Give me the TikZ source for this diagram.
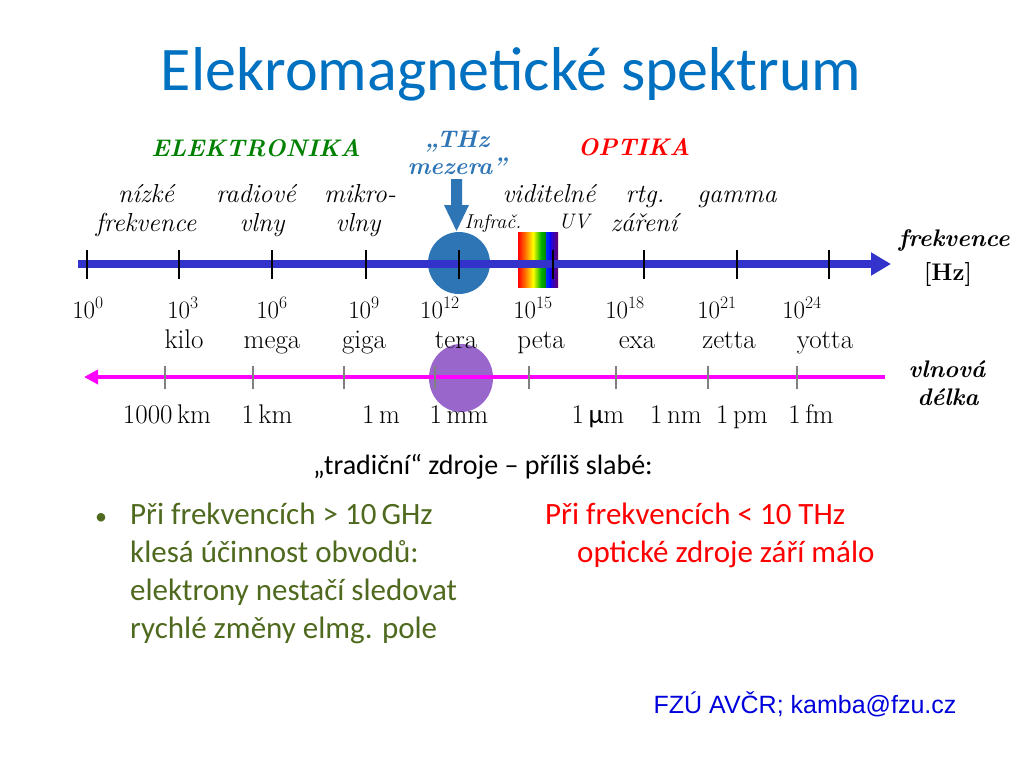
\documentclass[tikz,border=0pt]{standalone}
\usepackage{fontspec}
\newfontfamily\calibri{Carlito}
\newfontfamily\arial{Liberation Sans}
\usetikzlibrary{arrows.meta}
\definecolor{titleblue}{RGB}{0,112,192}
\definecolor{axisblue}{RGB}{51,51,204}
\definecolor{thzblue}{RGB}{46,117,182}
\definecolor{elgreen}{RGB}{0,128,0}
\definecolor{olivegreen}{RGB}{79,105,30}
\definecolor{purp}{RGB}{153,102,204}
\definecolor{mag}{RGB}{255,0,255}
\definecolor{mailblue}{RGB}{0,0,220}
\tikzset{
  lab/.style={font=\fontsize{26}{28}\selectfont\itshape, inner sep=0pt, anchor=base},
  pw/.style={font=\fontsize{25}{27}\selectfont, inner sep=0pt, anchor=base},
  pre/.style={font=\fontsize{27}{29}\selectfont, inner sep=0pt, anchor=base},
  wl/.style={font=\fontsize{27}{29}\selectfont, inner sep=0pt, anchor=base},
  head/.style={font=\fontsize{24}{26}\selectfont\bfseries\itshape, inner sep=0pt, anchor=base},
  side/.style={font=\fontsize{24}{26}\selectfont\bfseries\itshape, inner sep=0pt, anchor=base},
  ftick/.style={line width=2pt, black},
  wtick/.style={line width=1.5pt, gray},
  body/.style={font=\calibri\fontsize{31}{34}\selectfont, inner sep=0pt, anchor=base west},
}
\begin{document}
\begin{tikzpicture}[x=1pt,y=-1pt]
\useasboundingbox (0,0) rectangle (1024,768);
% title
\node[font=\calibri\fontsize{62}{68}\selectfont, text=titleblue, inner sep=0pt, anchor=base] (title) at (511,90) {Elekromagnetické spektrum};
% headings
\node[head, text=elgreen] (elek) at (256,156) {ELEKTRONIKA};
\node[head, text=red] (opt) at (634,155) {OPTIKA};
\node[head, text=thzblue] (thz1) at (457,147) {„THz};
\node[head, text=thzblue] (thz2) at (457,174) {mezera”};
% band labels
\node[lab] (n1) at (146,202) {nízké};
\node[lab] (n2) at (146,231) {frekvence};
\node[lab] (r1) at (256,202) {radiové};
\node[lab] (r2) at (262,231) {vlny};
\node[lab] (m1) at (360,202) {mikro-};
\node[lab] (m2) at (358,231) {vlny};
\node[lab] (vid) at (549,202) {viditelné};
\node[font=\fontsize{20}{22}\selectfont\itshape, inner sep=0pt, anchor=base] (ir) at (493,228) {Infrač.};
\node[font=\fontsize{21}{23}\selectfont\itshape, inner sep=0pt, anchor=base] (uv) at (574,228) {UV};
\node[lab] (rt1) at (645,202) {rtg.};
\node[lab] (rt2) at (644,231) {záření};
\node[lab] (gam) at (737,202) {gamma};
% frequency axis
\coordinate (fs) at (78,264);
\coordinate (fe) at (891,264);
\fill[thzblue] (459,263) circle[radius=31];
% rainbow
\shade[left color=red, right color=orange] (518,232) rectangle (526,287);
\shade[left color=orange, right color=yellow] (526,232) rectangle (533,287);
\shade[left color=yellow, right color=green!70!black] (533,232) rectangle (541,287);
\shade[left color=green!70!black, right color=green!50!black] (541,232) rectangle (546,287);
\shade[left color=blue!80!cyan, right color=blue] (546,232) rectangle (551,287);
\shade[left color=blue!70!violet, right color=violet!80!black] (551,232) rectangle (558,287);
\draw[axisblue, line width=7.5pt, -{Triangle[length=20pt,width=22pt]}] (fs) -- (fe);
\foreach \x in {87,179,272,366,459,553,644,737,829}
  \draw[ftick] (\x,250) -- (\x,279);
% THz arrow
\fill[thzblue] (451,179) -- (462,179) -- (462,205) -- (469,205) -- (456.5,231) -- (444,205) -- (451,205) -- cycle;
\node[side] (fr1) at (954,246) {frekvence};
\node[side, font=\fontsize{24}{26}\selectfont\bfseries] (fr2) at (948,280) {[Hz]};
% powers
\node[pw] (p0) at (88,318) {10\textsuperscript{0}};
\node[pw] (p3) at (183,318) {10\textsuperscript{3}};
\node[pw] (p6) at (272,318) {10\textsuperscript{6}};
\node[pw] (p9) at (364,318) {10\textsuperscript{9}};
\node[pw] (p12) at (440,318) {10\textsuperscript{12}};
\node[pw] (p15) at (533,318) {10\textsuperscript{15}};
\node[pw] (p18) at (625,318) {10\textsuperscript{18}};
\node[pw] (p21) at (717,318) {10\textsuperscript{21}};
\node[pw] (p24) at (802,318) {10\textsuperscript{24}};
% wavelength axis
\fill[purp] (461,378) ellipse[x radius=32, y radius=34];
% prefixes
\node[pre] (kilo) at (184,348) {kilo};
\node[pre] (mega) at (272,348) {mega};
\node[pre] (giga) at (364,348) {giga};
\node[pre] (tera) at (456,348) {tera};
\node[pre] (peta) at (541,348) {peta};
\node[pre] (exa) at (637,348) {exa};
\node[pre] (zetta) at (729,348) {zetta};
\node[pre] (yotta) at (825,348) {yotta};
\coordinate (ws) at (885,377);
\coordinate (we) at (84,377);
\draw[mag, line width=4.5pt, -{Triangle[length=14pt,width=14pt]}] (ws) -- (we);
\foreach \x in {165,253,344,435,529,616,708,797}
  \draw[wtick] (\x,366) -- (\x,389);
\node[side] (vl1) at (947,377) {vlnová};
\node[side] (vl2) at (948,405) {délka};
\node[wl] (w1) at (167,423) {1000\,km};
\node[wl] (w2) at (267,423) {1\,km};
\node[wl] (w3) at (381,423) {1\,m};
\node[wl] (w4) at (459,423) {1\,mm};
\node[wl] (w5) at (598,423) {1\,{\calibri μ}m};
\node[wl] (w6) at (676,423) {1\,nm};
\node[wl] (w7) at (742,423) {1\,pm};
\node[wl] (w8) at (811,423) {1\,fm};
% texts
\node[font=\calibri\fontsize{28}{30}\selectfont, inner sep=0pt, anchor=base] (trad) at (483,474) {„tradiční“ zdroje – příliš slabé:};
\node[font=\calibri\fontsize{24}{26}\selectfont, text=olivegreen, inner sep=0pt, anchor=base] (bul) at (101,524) {•};
\node[body, text=olivegreen] (g1) at (130,524) {Při frekvencích > 10\,GHz};
\node[body, text=olivegreen] (g2) at (130,562) {klesá účinnost obvodů:};
\node[body, text=olivegreen] (g3) at (130,600) {elektrony nestačí sledovat};
\node[body, text=olivegreen] (g4) at (130,638) {rychlé změny elmg. pole};
\node[body, text=red] (r1t) at (545,524) {Při frekvencích < 10 THz};
\node[body, text=red] (r2t) at (577,562) {optické zdroje září málo};
\node[font=\arial\fontsize{25}{27}\selectfont, text=mailblue, inner sep=0pt, anchor=base] (mail) at (805,713) {FZÚ AVČR; kamba@fzu.cz};
\end{tikzpicture}
\end{document}
